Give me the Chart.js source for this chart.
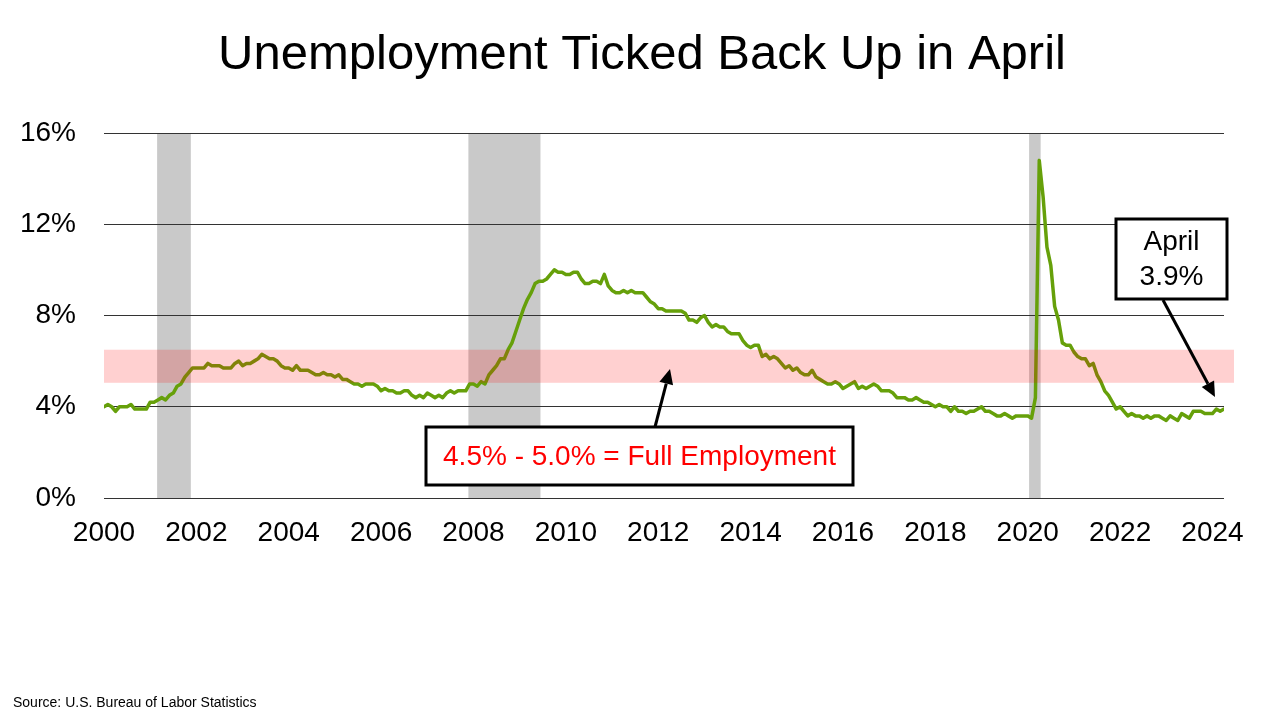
<!DOCTYPE html>
<html>
<head>
<meta charset="utf-8">
<script src="https://cdn.jsdelivr.net/npm/chart.js@4.4.1/dist/chart.umd.min.js"></script>
<style>
  html, body { margin: 0; padding: 0; background: #ffffff; }
  #wrap { width: 1280px; height: 720px; position: relative; }
  canvas { display: block; }
</style>
</head>
<body>
<div id="wrap"><canvas id="c" width="1280" height="720"></canvas></div>
<script>
// ---------- data ----------
const titleText = 'Unemployment Ticked Back Up in April';
const sourceText = 'Source: U.S. Bureau of Labor Statistics';
const startYear = 2000;
// Monthly unemployment rate (%), Jan 2000 – Apr 2024
const unemploymentRate = [
  4.0, 4.1, 4.0, 3.8, 4.0, 4.0, 4.0, 4.1, 3.9, 3.9, 3.9, 3.9,   // 2000
  4.2, 4.2, 4.3, 4.4, 4.3, 4.5, 4.6, 4.9, 5.0, 5.3, 5.5, 5.7,   // 2001
  5.7, 5.7, 5.7, 5.9, 5.8, 5.8, 5.8, 5.7, 5.7, 5.7, 5.9, 6.0,   // 2002
  5.8, 5.9, 5.9, 6.0, 6.1, 6.3, 6.2, 6.1, 6.1, 6.0, 5.8, 5.7,   // 2003
  5.7, 5.6, 5.8, 5.6, 5.6, 5.6, 5.5, 5.4, 5.4, 5.5, 5.4, 5.4,   // 2004
  5.3, 5.4, 5.2, 5.2, 5.1, 5.0, 5.0, 4.9, 5.0, 5.0, 5.0, 4.9,   // 2005
  4.7, 4.8, 4.7, 4.7, 4.6, 4.6, 4.7, 4.7, 4.5, 4.4, 4.5, 4.4,   // 2006
  4.6, 4.5, 4.4, 4.5, 4.4, 4.6, 4.7, 4.6, 4.7, 4.7, 4.7, 5.0,   // 2007
  5.0, 4.9, 5.1, 5.0, 5.4, 5.6, 5.8, 6.1, 6.1, 6.5, 6.8, 7.3,   // 2008
  7.8, 8.3, 8.7, 9.0, 9.4, 9.5, 9.5, 9.6, 9.8, 10.0, 9.9, 9.9,  // 2009
  9.8, 9.8, 9.9, 9.9, 9.6, 9.4, 9.4, 9.5, 9.5, 9.4, 9.8, 9.3,   // 2010
  9.1, 9.0, 9.0, 9.1, 9.0, 9.1, 9.0, 9.0, 9.0, 8.8, 8.6, 8.5,   // 2011
  8.3, 8.3, 8.2, 8.2, 8.2, 8.2, 8.2, 8.1, 7.8, 7.8, 7.7, 7.9,   // 2012
  8.0, 7.7, 7.5, 7.6, 7.5, 7.5, 7.3, 7.2, 7.2, 7.2, 6.9, 6.7,   // 2013
  6.6, 6.7, 6.7, 6.2, 6.3, 6.1, 6.2, 6.1, 5.9, 5.7, 5.8, 5.6,   // 2014
  5.7, 5.5, 5.4, 5.4, 5.6, 5.3, 5.2, 5.1, 5.0, 5.0, 5.1, 5.0,   // 2015
  4.8, 4.9, 5.0, 5.1, 4.8, 4.9, 4.8, 4.9, 5.0, 4.9, 4.7, 4.7,   // 2016
  4.7, 4.6, 4.4, 4.4, 4.4, 4.3, 4.3, 4.4, 4.3, 4.2, 4.2, 4.1,   // 2017
  4.0, 4.1, 4.0, 4.0, 3.8, 4.0, 3.8, 3.8, 3.7, 3.8, 3.8, 3.9,   // 2018
  4.0, 3.8, 3.8, 3.7, 3.6, 3.6, 3.7, 3.6, 3.5, 3.6, 3.6, 3.6,   // 2019
  3.6, 3.5, 4.4, 14.8, 13.2, 11.0, 10.2, 8.4, 7.8, 6.8, 6.7, 6.7, // 2020
  6.4, 6.2, 6.1, 6.1, 5.8, 5.9, 5.4, 5.1, 4.7, 4.5, 4.2, 3.9,   // 2021
  4.0, 3.8, 3.6, 3.7, 3.6, 3.6, 3.5, 3.6, 3.5, 3.6, 3.6, 3.5,   // 2022
  3.4, 3.6, 3.5, 3.4, 3.7, 3.6, 3.5, 3.8, 3.8, 3.8, 3.7, 3.7,   // 2023
  3.7, 3.9, 3.8, 3.9                                            // 2024
];
const recessionStart = [2001.15, 2007.89, 2020.03];
const recessionEnd   = [2001.88, 2009.45, 2020.28];
const fullEmploymentBand = [5.05, 6.5];
const yearTicks = [2000, 2002, 2004, 2006, 2008, 2010, 2012, 2014, 2016, 2018, 2020, 2022, 2024];
const percentTicks = [0, 4, 8, 12, 16];
const bandLabel = '4.5% - 5.0% = Full Employment';
const latestLabel = ['April', '3.9%'];

// ---------- chart ----------
const FONT = '"Liberation Sans", Arial, Helvetica, sans-serif';
const points = unemploymentRate.map((v, i) => ({ x: startYear + i / 12, y: v }));

function arrow(ctx, x0, y0, x1, y1) {
  const ang = Math.atan2(y1 - y0, x1 - x0);
  const head = 15, half = 7;
  const bx = x1 - head * Math.cos(ang), by = y1 - head * Math.sin(ang);
  ctx.beginPath();
  ctx.moveTo(x0, y0);
  ctx.lineTo(bx, by);
  ctx.lineWidth = 3;
  ctx.strokeStyle = '#000';
  ctx.stroke();
  ctx.beginPath();
  ctx.moveTo(x1, y1);
  ctx.lineTo(bx + half * Math.sin(ang), by - half * Math.cos(ang));
  ctx.lineTo(bx - half * Math.sin(ang), by + half * Math.cos(ang));
  ctx.closePath();
  ctx.fillStyle = '#000';
  ctx.fill();
}

function box(ctx, x, y, w, h) {
  ctx.fillStyle = '#fff';
  ctx.fillRect(x, y, w, h);
  ctx.lineWidth = 3;
  ctx.strokeStyle = '#000';
  ctx.strokeRect(x, y, w, h);
}

const overlayPlugin = {
  id: 'overlay',
  beforeDraw(chart) {
    const { ctx, chartArea: a, scales: { x } } = chart;
    ctx.save();
    ctx.fillStyle = '#c9c9c9';
    recessionStart.forEach((s, i) => {
      const x0 = x.getPixelForValue(s);
      const x1 = x.getPixelForValue(recessionEnd[i]);
      ctx.fillRect(x0, a.top, x1 - x0, a.bottom - a.top);
    });
    ctx.restore();
  },
  afterDatasetsDraw(chart) {
    const { ctx, chartArea: a, scales: { y } } = chart;
    const yTop = y.getPixelForValue(fullEmploymentBand[1]);
    const yBot = y.getPixelForValue(fullEmploymentBand[0]);
    ctx.save();
    ctx.fillStyle = 'rgba(255, 0, 0, 0.185)';
    ctx.fillRect(a.left, yTop, a.right - a.left + 10, yBot - yTop);
    ctx.restore();
  },
  afterDraw(chart) {
    const { ctx } = chart;
    ctx.save();
    // title
    ctx.fillStyle = '#000';
    ctx.font = '49px ' + FONT;
    ctx.textAlign = 'center';
    ctx.textBaseline = 'alphabetic';
    ctx.fillText(titleText, 642, 69);
    // source
    ctx.font = '14px ' + FONT;
    ctx.textAlign = 'left';
    ctx.fillText(sourceText, 13, 707);

    // full employment annotation
    arrow(ctx, 655, 427, 670, 369);
    box(ctx, 426, 427, 427, 58);
    ctx.fillStyle = '#ff0000';
    ctx.font = '28px ' + FONT;
    ctx.textAlign = 'center';
    ctx.textBaseline = 'middle';
    ctx.fillText(bandLabel, 639.5, 457);

    // latest value annotation
    arrow(ctx, 1163, 300, 1215, 397);
    box(ctx, 1116, 219, 111, 80);
    ctx.fillStyle = '#000';
    ctx.font = '28px ' + FONT;
    ctx.fillText(latestLabel[0], 1171.5, 242);
    ctx.fillText(latestLabel[1], 1171.5, 277);
    ctx.restore();
  }
};

new Chart(document.getElementById('c').getContext('2d'), {
  type: 'line',
  data: {
    datasets: [{
      data: points,
      borderColor: '#66A00A',
      borderWidth: 3.5,
      pointRadius: 0,
      tension: 0,
      fill: false,
      borderJoinStyle: 'round',
      borderCapStyle: 'round'
    }]
  },
  options: {
    responsive: false,
    animation: false,
    devicePixelRatio: 1,
    layout: { padding: { left: 0, right: 56, top: 133, bottom: 0 } },
    plugins: { legend: { display: false }, tooltip: { enabled: false }, title: { display: false } },
    scales: {
      x: {
        type: 'linear',
        min: startYear,
        max: startYear + (unemploymentRate.length - 1) / 12,
        afterFit(s) { s.height = 222; },
        afterBuildTicks(s) { s.ticks = yearTicks.map(v => ({ value: v })); },
        ticks: {
          autoSkip: false, maxRotation: 0, minRotation: 0, padding: 18,
          color: '#000', font: { family: FONT, size: 28 },
          callback: v => String(v)
        },
        grid: { display: false, drawTicks: false },
        border: { display: false }
      },
      y: {
        min: 0, max: 16,
        afterFit(s) { s.width = 104; },
        afterBuildTicks(s) { s.ticks = percentTicks.map(v => ({ value: v })); },
        ticks: {
          padding: 28, color: '#000', font: { family: FONT, size: 28 },
          callback: v => v + '%'
        },
        grid: { color: '#333', lineWidth: 1, drawTicks: false },
        border: { display: false }
      }
    }
  },
  plugins: [overlayPlugin]
});
</script>
</body>
</html>
